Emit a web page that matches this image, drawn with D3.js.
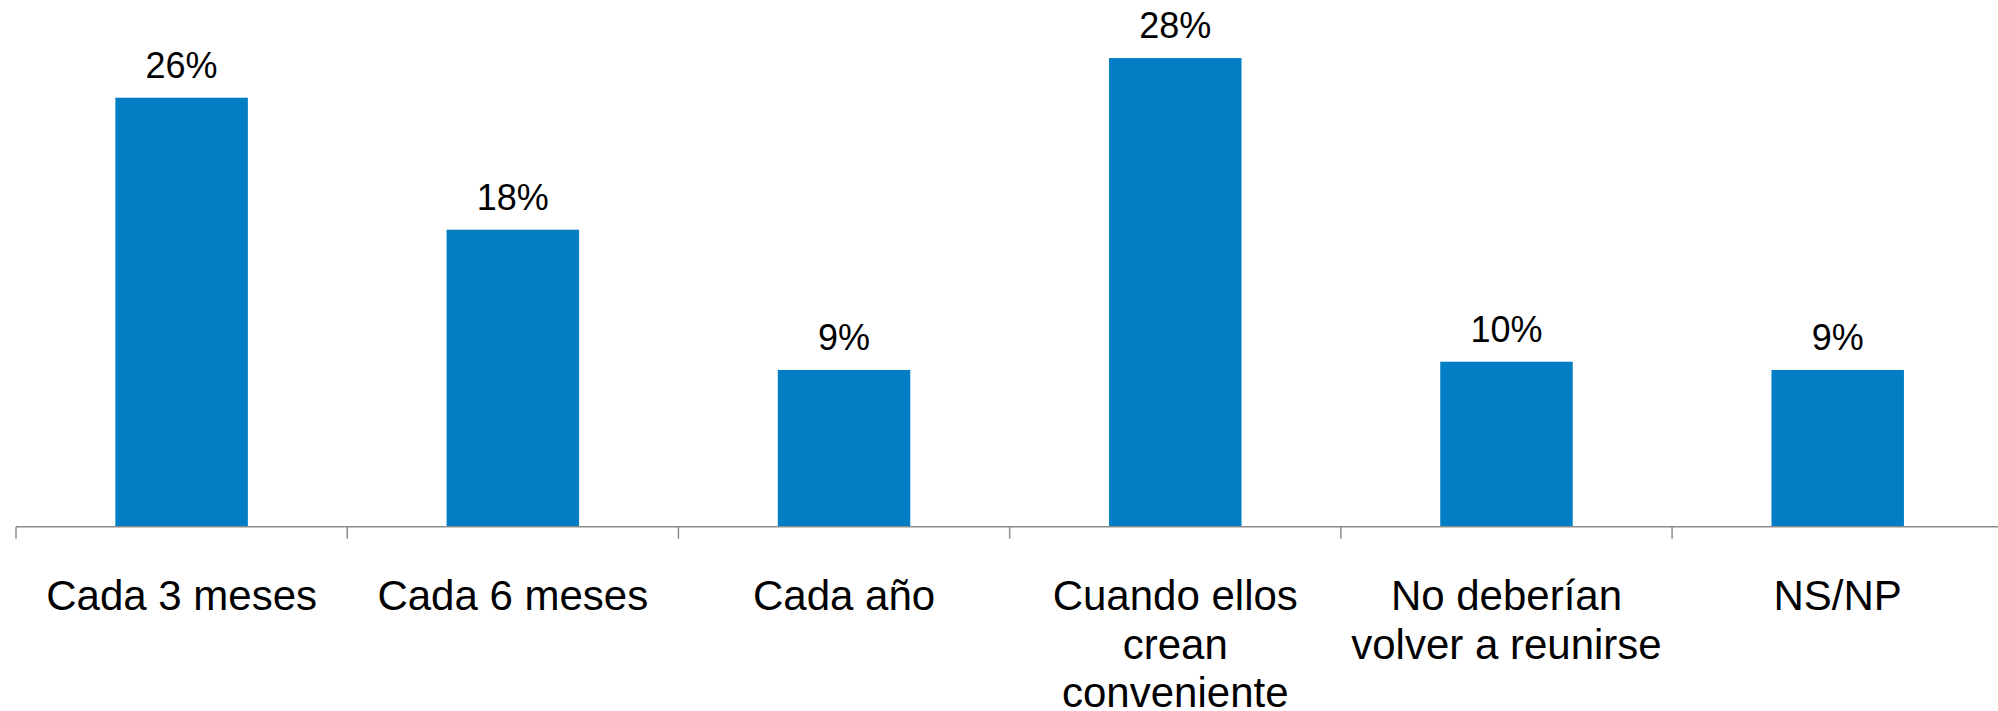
<!DOCTYPE html>
<html>
<head>
<meta charset="utf-8">
<script src="https://cdn.jsdelivr.net/npm/d3@7"></script>
<style>
  html, body { margin: 0; padding: 0; background: #ffffff; }
  svg { display: block; }
  text { font-family: "Liberation Sans", Arial, sans-serif; fill: #000; }
</style>
</head>
<body>
<svg id="chart" width="1998" height="711"></svg>
<script>
// ---- Data ----
const categories = [
  ["Cada 3 meses"],
  ["Cada 6 meses"],
  ["Cada año"],
  ["Cuando ellos", "crean", "conveniente"],
  ["No deberían", "volver a reunirse"],
  ["NS/NP"]
];
const values = [26, 18, 9.5, 28.4, 10, 9.5];
const valueLabels = ["26%", "18%", "9%", "28%", "10%", "9%"];

// ---- Layout ----
const W = 1998, H = 711;
const axisY = 526.7;
const x0 = 16, x1 = 2003.3;

const svg = d3.select("#chart");
const keys = d3.range(categories.length);

const xBand = d3.scaleBand().domain(keys).range([x0, x1]).padding(0);
const xBar = d3.scaleBand().domain(keys).range([x0, x1])
  .paddingInner(0.6).paddingOuter(0.3);
const y = d3.scaleLinear().domain([0, 30]).range([axisY, axisY - 30 * 16.5]);

// Bars
svg.append("g").selectAll("rect")
  .data(values)
  .join("rect")
  .attr("x", (d, i) => xBar(i))
  .attr("width", xBar.bandwidth())
  .attr("y", d => y(d))
  .attr("height", d => axisY - y(d))
  .attr("fill", "#037dc3");

// Value labels
svg.append("g").selectAll("text")
  .data(values)
  .join("text")
  .attr("x", (d, i) => xBar(i) + xBar.bandwidth() / 2)
  .attr("y", d => y(d) - 20)
  .attr("text-anchor", "middle")
  .attr("font-size", "36px")
  .text((d, i) => valueLabels[i]);

// Axis line
svg.append("line")
  .attr("x1", x0).attr("x2", W)
  .attr("y1", axisY).attr("y2", axisY)
  .attr("stroke", "#8c8c8c").attr("stroke-width", 1.5);

// Tick marks at band boundaries
svg.append("g").selectAll("line")
  .data(keys)
  .join("line")
  .attr("x1", i => xBand(i)).attr("x2", i => xBand(i))
  .attr("y1", axisY).attr("y2", axisY + 12)
  .attr("stroke", "#8c8c8c").attr("stroke-width", 1.5);

// Category labels
const lab = svg.append("g").selectAll("text")
  .data(categories)
  .join("text")
  .attr("text-anchor", "middle")
  .attr("font-size", "42px")
  .attr("transform", (d, i) => `translate(${xBand(i) + xBand.bandwidth() / 2},610)`);
lab.selectAll("tspan")
  .data(d => d)
  .join("tspan")
  .attr("x", 0)
  .attr("y", (d, j) => j * 48.5)
  .text(d => d);
</script>
</body>
</html>
